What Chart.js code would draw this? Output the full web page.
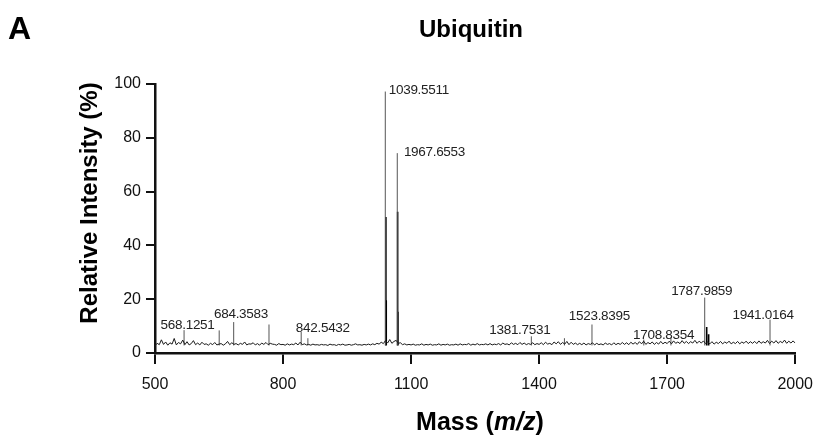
<!DOCTYPE html>
<html>
<head>
<meta charset="utf-8">
<script src="https://cdn.jsdelivr.net/npm/chart.js@4.4.1/dist/chart.umd.min.js"></script>
<style>
  html, body { margin: 0; padding: 0; background: #fff; }
  #wrap { width: 824px; height: 436px; }
</style>
</head>
<body>
<div id="wrap"><canvas id="chart" width="824" height="436"></canvas></div>
<script>
// baseline noise of the spectrum, one value every 5 m/z from 500 to 2000
const noiseStart = 500;
const noiseStep = 5;
const noise = [
  2.7, 3.6, 3.1, 4.9, 3.2, 4.1, 2.9, 3.8, 3.3, 5.4, 3.0, 3.9, 3.4, 4.8, 3.1, 4.2, 3.0, 3.5, 4.6, 3.1,
  3.7, 3.0, 4.0, 3.2, 3.4, 2.9, 3.6, 3.1, 3.9, 3.0, 3.3, 3.5, 2.9, 3.4, 4.3, 3.1, 3.8, 3.2, 3.5, 3.0,
  3.6, 3.2, 4.1, 3.0, 3.4, 3.3, 3.8, 3.0, 3.5, 2.9, 3.7, 3.2, 3.9, 3.1, 3.6, 3.3, 3.2, 2.9, 3.5, 3.1,
  3.2, 2.9, 3.4, 3.0, 3.3, 3.1, 3.7, 3.0, 4.0, 3.1, 3.4, 3.0, 3.2, 2.9, 3.3, 3.0, 3.1, 2.9, 3.2, 3.0,
  3.1, 2.8, 3.3, 3.0, 3.1, 2.8, 3.2, 3.0, 3.3, 2.9, 3.0, 3.2, 2.9, 3.1, 3.4, 3.0, 3.1, 2.9, 3.2, 3.0,
  3.3, 3.0, 3.4, 3.1, 3.6, 3.3, 4.0, 3.5, 4.6, 3.7, 5.0, 3.6, 4.3, 4.7, 3.6, 3.8, 3.1, 3.4, 3.0, 3.2,
  3.0, 3.3, 2.9, 3.1, 3.0, 3.4, 2.9, 3.2, 3.0, 3.3, 2.9, 3.1, 3.0, 3.4, 2.9, 3.2, 3.0, 3.3, 2.9, 3.1,
  3.0, 3.3, 2.9, 3.4, 3.0, 3.2, 3.1, 3.5, 2.9, 3.3, 3.0, 3.5, 3.0, 3.2, 3.1, 3.4, 3.0, 3.5, 3.0, 3.3,
  3.1, 3.5, 3.0, 3.7, 3.2, 3.4, 3.0, 3.8, 3.2, 3.6, 3.1, 3.9, 3.2, 3.7, 3.1, 3.5, 3.2, 3.8, 3.1, 3.5,
  3.2, 3.8, 3.1, 4.0, 3.3, 3.6, 3.1, 4.1, 3.4, 4.2, 3.2, 3.9, 3.3, 4.3, 3.1, 4.0, 3.2, 3.7, 3.1, 3.6,
  3.1, 3.7, 3.0, 3.5, 3.2, 3.8, 3.0, 3.6, 3.1, 3.4, 3.0, 3.7, 3.2, 3.5, 3.0, 3.8, 3.1, 3.6, 3.2, 3.9,
  3.2, 3.8, 3.1, 4.0, 3.3, 3.9, 3.2, 4.2, 3.4, 4.4, 3.2, 3.9, 3.4, 4.1, 3.2, 3.9, 3.3, 4.3, 3.4, 4.0,
  3.5, 4.4, 3.4, 4.5, 3.6, 4.1, 3.5, 4.6, 3.6, 4.3, 3.5, 4.2, 3.7, 4.7, 3.6, 4.4, 3.7, 4.5, 3.5, 4.1,
  3.4, 4.2, 3.3, 4.0, 3.5, 4.3, 3.4, 4.1, 3.6, 4.4, 3.4, 4.0, 3.5, 4.3, 3.4, 4.1, 3.6, 4.4, 3.5, 4.2,
  3.6, 4.3, 3.5, 4.5, 3.6, 4.2, 3.7, 4.7, 3.5, 4.4, 3.7, 4.6, 3.6, 4.3, 3.8, 4.8, 3.6, 4.4, 3.7, 4.5,
  3.7,
];

// peak sticks (m/z, relative intensity %) and their annotation text
const peakMass = [568.1251, 650.4, 684.3583, 767.1, 842.5432, 858.2, 1039.5511, 1067.6553,
  1381.7531, 1459.3, 1523.8395, 1645.2, 1708.8354, 1787.9859, 1941.0164];
const peakHeight = [8.5, 8.4, 11.5, 10.6, 7.8, 5.5, 97.2, 74.3,
  6.2, 5.5, 10.6, 5.0, 5.8, 20.6, 12.4];
const peakLabels = ["568.1251", "", "684.3583", "", "842.5432", "", "1039.5511", "1967.6553",
  "1381.7531", "", "1523.8395", "", "1708.8354", "1787.9859", "1941.0164"];

// isotope shoulders next to the main peaks
const isoMass = [1041.0, 1041.8, 1068.5, 1069.3, 1792.6, 1797.2];
const isoHeight = [50.6, 19.6, 52.5, 15.3, 9.7, 7.0];

const xTicks = [500, 800, 1100, 1400, 1700, 2000];
const yTicks = [0, 20, 40, 60, 80, 100];

const FONT = "'Liberation Sans', Arial, Helvetica, sans-serif";
Chart.defaults.font.family = FONT;
Chart.defaults.color = "#111";

const noisePoints = noise.map((v, i) => ({ x: noiseStart + i * noiseStep, y: v }));

// each stick: up from the baseline, then a gap
function sticks(masses, heights) {
  const pts = [];
  masses.forEach((m, i) => {
    pts.push({ x: m, y: 2.8 });
    pts.push({ x: m, y: heights[i] });
    pts.push({ x: m, y: null });
  });
  return pts;
}

// label placement: dx from the stick, gap between stick top and text baseline
const labelPlace = {
  "568.1251": { dx: 3.5, gap: 1, align: "center" },
  "684.3583": { dx: 7.3, gap: 4, align: "center" },
  "842.5432": { dx: 21.6, gap: 0, align: "center" },
  "1039.5511": { dx: 3.5, gap: -2.5, align: "left" },
  "1967.6553": { dx: 6.6, gap: -2.7, align: "left" },
  "1381.7531": { dx: -11.5, gap: 2.7, align: "center" },
  "1523.8395": { dx: 7.4, gap: 4.3, align: "center" },
  "1708.8354": { dx: -7.3, gap: -1.2, align: "center" },
  "1787.9859": { dx: -3, gap: 2.4, align: "center" },
  "1941.0164": { dx: -7, gap: 1, align: "center" },
};

const peakLabelPlugin = {
  id: "peakLabels",
  afterDatasetsDraw(chart) {
    const { ctx } = chart;
    const xs = chart.scales.x;
    const ys = chart.scales.y;
    ctx.save();
    ctx.font = "13.5px " + FONT;
    ctx.letterSpacing = "-0.3px";
    ctx.fillStyle = "#222";
    ctx.textBaseline = "alphabetic";
    peakLabels.forEach((txt, i) => {
      if (!txt) return;
      const p = labelPlace[txt];
      const px = xs.getPixelForValue(peakMass[i]);
      const py = ys.getPixelForValue(peakHeight[i]);
      ctx.textAlign = p.align;
      ctx.fillText(txt, px + p.dx, py - p.gap);
    });
    ctx.restore();
  },
};

// panel letter, title and axis titles
const titlesPlugin = {
  id: "titles",
  afterDraw(chart) {
    const { ctx } = chart;
    ctx.save();
    ctx.fillStyle = "#000";
    ctx.textBaseline = "alphabetic";

    ctx.textAlign = "left";
    ctx.font = "bold 32px " + FONT;
    ctx.fillText("A", 8, 39);

    ctx.textAlign = "center";
    ctx.font = "bold 24px " + FONT;
    ctx.fillText("Ubiquitin", 471, 37);

    ctx.save();
    ctx.translate(96.5, 203);
    ctx.rotate(-Math.PI / 2);
    ctx.font = "bold 24px " + FONT;
    ctx.fillText("Relative Intensity (%)", 0, 0);
    ctx.restore();

    const parts = [
      ["Mass (", "bold 25px " + FONT],
      ["m/z", "italic bold 25px " + FONT],
      [")", "bold 25px " + FONT],
    ];
    let total = 0;
    parts.forEach(([t, f]) => { ctx.font = f; total += ctx.measureText(t).width; });
    let x = 480 - total / 2;
    ctx.textAlign = "left";
    parts.forEach(([t, f]) => {
      ctx.font = f;
      ctx.fillText(t, x, 430);
      x += ctx.measureText(t).width;
    });
    ctx.restore();
  },
};

const ctx = document.getElementById("chart").getContext("2d");
new Chart(ctx, {
  type: "line",
  data: {
    datasets: [
      {
        data: noisePoints,
        borderColor: "#1a1a1a",
        borderWidth: 1,
        pointRadius: 0,
        tension: 0,
      },
      {
        data: sticks(peakMass, peakHeight),
        borderColor: "#555",
        borderWidth: 1,
        pointRadius: 0,
        spanGaps: false,
      },
      {
        data: sticks(isoMass, isoHeight),
        borderColor: "#000",
        borderWidth: 1.6,
        pointRadius: 0,
        spanGaps: false,
      },
    ],
  },
  options: {
    responsive: false,
    animation: false,
    events: [],
    layout: { padding: { top: 84, right: 22, left: 0, bottom: 0 } },
    plugins: { legend: { display: false }, tooltip: { enabled: false } },
    scales: {
      x: {
        type: "linear",
        min: 500,
        max: 2000,
        afterFit: (s) => { s.height = 83; },
        afterBuildTicks: (s) => { s.ticks = xTicks.map((v) => ({ value: v })); },
        ticks: { font: { size: 16 }, padding: 11, maxRotation: 0, color: "#111", callback: (v) => String(v) },
        grid: { drawOnChartArea: false, drawTicks: true, tickLength: 11, color: "#111", lineWidth: 2 },
        border: { display: true, color: "#111", width: 2.5 },
      },
      y: {
        min: 0,
        max: 100,
        afterFit: (s) => { s.width = 155; },
        afterBuildTicks: (s) => { s.ticks = yTicks.map((v) => ({ value: v })); },
        ticks: { font: { size: 16 }, padding: 5, color: "#111", callback: (v) => String(v) },
        grid: { drawOnChartArea: false, drawTicks: true, tickLength: 9, color: "#111", lineWidth: 2 },
        border: { display: true, color: "#111", width: 2.5 },
      },
    },
  },
  plugins: [peakLabelPlugin, titlesPlugin],
});
</script>
</body>
</html>
